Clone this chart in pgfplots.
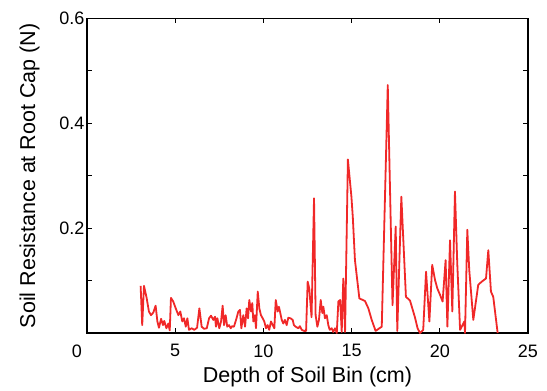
\documentclass[border=0pt]{standalone}
\usepackage{fontspec}
\setmainfont{Liberation Sans}
\usepackage{pgfplots}
\pgfplotsset{compat=1.18}
\definecolor{linered}{RGB}{240,40,40}
\begin{document}
\begin{tikzpicture}
\begin{axis}[
  scale only axis,
  width=441pt, height=314.5pt,
  xmin=0, xmax=25, ymin=0, ymax=0.6,
  xtick={0,5,10,15,20,25},
  xticklabels={\makebox[0pt][r]{0\hspace{5pt}},5,10,15,20,25},
  ytick={0.2,0.4,0.6},
  minor ytick={0.1,0.3,0.5},
  yticklabels={0.2,0.4,0.6},
  tick align=inside,
  major tick length=5pt, minor tick length=5pt,
  tick style={black, line width=1pt},
  axis line style={line width=1.3pt},
  /pgf/number format/assume math mode=true,
  ticklabel style={font=\fontsize{18}{20}\selectfont},
  label style={font=\fontsize{21.5}{24}\selectfont},
  xlabel={Depth of Soil Bin (cm)},
  ylabel={Soil Resistance at Root Cap (N)},
  xticklabel style={yshift=-8pt},
  yticklabel style={xshift=1pt},
  xlabel style={yshift=-3pt},
  ylabel style={yshift=13pt},
  clip=false,
]
\addplot[color=linered, line width=1.8pt, line join=round] coordinates {
(3.04,0.090) (3.13,0.015) (3.23,0.090) (3.38,0.067) (3.51,0.041) (3.63,0.034)
(3.76,0.039) (3.89,0.052) (3.99,0.022) (4.08,0.010) (4.20,0.027) (4.31,0.015)
(4.38,0.023) (4.50,0.009) (4.61,0.018) (4.69,0.005) (4.76,0.067) (4.89,0.060)
(5.03,0.047) (5.18,0.034) (5.29,0.041) (5.40,0.022) (5.50,0.028) (5.60,0.012)
(5.69,0.028) (5.78,0.006) (5.94,0.009) (6.08,0.006) (6.24,0.010) (6.37,0.047)
(6.50,0.012) (6.63,0.008) (6.79,0.009) (6.92,0.028) (7.03,0.033) (7.16,0.025)
(7.26,0.031) (7.31,0.012) (7.39,0.028) (7.50,0.009) (7.60,0.022) (7.69,0.052)
(7.77,0.015) (7.86,0.034) (7.95,0.012) (8.05,0.015) (8.15,0.009) (8.22,0.013)
(8.33,0.012) (8.45,0.025) (8.58,0.041) (8.67,0.044) (8.75,0.009) (8.86,0.034)
(8.96,0.012) (9.05,0.047) (9.13,0.028) (9.20,0.063) (9.30,0.041) (9.37,0.057)
(9.43,0.022) (9.52,0.034) (9.58,0.009) (9.68,0.079) (9.77,0.047) (9.86,0.034)
(9.96,0.028) (10.05,0.022) (10.15,0.009) (10.24,0.015) (10.33,0.006) (10.43,0.022)
(10.53,0.015) (10.62,0.009) (10.70,0.063) (10.81,0.041) (10.88,0.050) (10.94,0.041)
(11.04,0.025) (11.13,0.018) (11.22,0.025) (11.32,0.015) (11.41,0.029) (11.54,0.028)
(11.66,0.025) (11.73,0.015) (11.83,0.012) (11.98,0.009) (12.07,0.013) (12.17,0.006)
(12.30,0.004) (12.42,0.004) (12.51,0.098) (12.60,0.085) (12.73,0.030) (12.87,0.257)
(12.96,0.034) (13.06,0.012) (13.15,0.025) (13.25,0.063) (13.34,0.038) (13.40,0.050)
(13.49,0.028) (13.59,0.034) (13.68,0.015) (13.76,0.006) (13.87,0.009) (13.96,0.002)
(14.06,0.009) (14.16,0.000) (14.25,0.060) (14.35,0.063) (14.44,0.002) (14.53,0.104)
(14.63,0.002) (14.79,0.331) (14.99,0.260) (15.07,0.220) (15.19,0.139) (15.44,0.066)
(15.76,0.061) (15.95,0.047) (16.14,0.025) (16.36,0.004) (16.71,0.012) (17.05,0.473)
(17.32,0.053) (17.50,0.203) (17.59,0.004) (17.82,0.260) (18.08,0.069) (18.31,0.062)
(18.59,0.030) (18.74,0.009) (18.88,0.000) (19.06,0.006) (19.22,0.117) (19.41,0.022)
(19.57,0.130) (19.73,0.101) (19.86,0.085) (20.01,0.073) (20.16,0.060) (20.33,0.139)
(20.43,0.012) (20.58,0.177) (20.71,0.041) (20.86,0.270) (20.99,0.133) (21.15,0.006)
(21.39,0.022) (21.43,0.000) (21.56,0.197) (21.67,0.120) (21.90,0.025) (22.18,0.092)
(22.38,0.098) (22.62,0.104) (22.75,0.158) (22.90,0.079) (23.03,0.069) (23.28,0.000)
};
\coordinate (bl) at (rel axis cs:-0.1973,-0.1812);
\coordinate (tr) at (rel axis cs:1.0431,1.0588);
\end{axis}
\useasboundingbox (bl) rectangle (tr);
\end{tikzpicture}
\end{document}
